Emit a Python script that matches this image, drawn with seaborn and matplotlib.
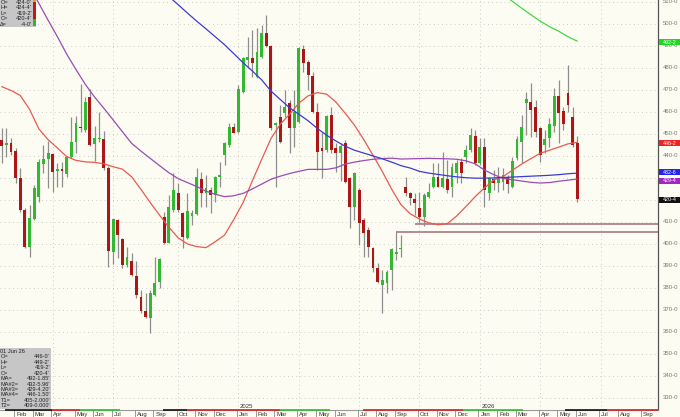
import numpy as np
import pandas as pd
import matplotlib
matplotlib.use("Agg")
import matplotlib.pyplot as plt
import matplotlib.transforms as mtransforms
from matplotlib.patches import Rectangle
import seaborn as sns

# ---------------- data ----------------
start_date = "2024-01-15"          # first weekly bar
n_future = 17                      # empty weekly slots to the right

opens = [447.3, 444.9, 445.8, 442.4, 429.9, 415.5, 398.8, 411.2, 421.2, 436.4,
         438.5, 440.9, 433.2, 434.1, 431.7, 439.4, 446.5, 453.3, 451.8, 466.7,
         445.3, 447.6, 447.6, 434.4, 396.2, 410.9, 402.1, 390.2, 392.3, 385.2,
         375.8, 369.7, 366.2, 376.8, 382.5, 412.4, 400.6, 415.5, 423.3, 414.2,
         402.6, 412.7, 413.6, 429.4, 423.0, 424.5, 422.3, 430.6, 440.5, 445.0,
         453.3, 450.8, 469.2, 483.6, 484.4, 476.1, 485.2, 495.8, 490.0, 454.1,
         457.6, 459.4, 463.9, 452.6, 455.6, 488.5, 482.9, 476.5, 460.2, 443.5,
         442.7, 458.6, 443.5, 441.5, 445.8, 429.8, 417.0, 424.5, 410.9, 406.4,
         398.0, 389.0, 381.4, 382.1, 388.2, 395.5, 397.6, 425.7, 423.3, 420.3,
         416.2, 412.1, 421.5, 425.8, 430.6, 425.8, 429.4, 425.8, 432.1, 437.4,
         439.4, 442.7, 449.1, 436.7, 444.2, 423.0, 429.4, 427.6, 428.0, 430.6,
         426.1, 439.0, 446.5, 464.2, 464.7, 462.4, 452.6, 445.0, 448.0, 453.6,
         467.3, 460.5, 468.8, 457.9, 446.0]
highs = [452.6, 452.6, 448.0, 443.5, 434.4, 416.2, 417.7, 426.8, 438.5, 445.0,
         447.0, 441.5, 436.7, 437.4, 439.7, 457.9, 458.2, 472.7, 467.0, 470.3,
         453.6, 460.2, 451.5, 435.5, 411.5, 411.2, 402.6, 398.8, 396.1, 392.3,
         379.1, 377.6, 379.1, 394.2, 393.5, 414.7, 422.3, 432.1, 427.6, 414.7,
         423.0, 415.5, 434.4, 432.9, 431.4, 426.1, 431.1, 437.4, 446.5, 454.8,
         454.8, 472.3, 485.2, 494.2, 497.3, 498.0, 499.5, 504.1, 490.5, 455.6,
         463.2, 470.0, 465.5, 470.0, 489.7, 490.5, 483.6, 478.3, 463.9, 451.1,
         458.6, 462.4, 445.8, 445.8, 447.3, 430.6, 432.9, 425.3, 411.7, 407.9,
         398.8, 391.5, 388.2, 388.2, 398.0, 405.25, 404.1, 430.6, 423.8, 423.0,
         423.8, 423.3, 427.9, 436.7, 436.7, 442.0, 438.2, 436.7, 438.2, 438.9,
         445.0, 452.5, 452.0, 448.0, 448.0, 430.6, 433.6, 435.2, 434.4, 431.4,
         439.4, 449.1, 458.6, 469.2, 473.0, 465.5, 453.3, 451.8, 457.1, 470.8,
         474.5, 462.4, 481.4, 462.4, 449.25]
lows = [436.7, 439.7, 440.5, 427.6, 414.7, 398.0, 393.9, 410.9, 419.2, 432.1,
        425.3, 423.8, 426.1, 426.1, 430.6, 439.0, 441.2, 451.1, 451.1, 444.5,
        437.9, 446.5, 433.6, 389.7, 391.0, 393.5, 388.9, 389.4, 385.2, 375.3,
        368.5, 366.2, 359.4, 376.4, 380.0, 400.0, 400.3, 414.7, 414.7, 398.0,
        402.1, 408.6, 413.2, 417.0, 417.0, 414.2, 419.2, 426.1, 435.9, 444.2,
        450.3, 450.3, 468.8, 479.8, 476.1, 475.3, 484.4, 489.7, 451.8, 426.1,
        445.8, 457.9, 441.2, 444.2, 454.8, 478.3, 470.0, 459.4, 433.6, 429.9,
        442.0, 441.2, 432.9, 428.5, 427.6, 407.1, 410.9, 399.6, 394.2, 394.2,
        387.4, 382.1, 368.5, 377.6, 379.1, 392.7, 394.2, 421.8, 417.7, 413.2,
        409.4, 408.2, 420.8, 425.3, 425.8, 425.3, 423.0, 421.5, 427.6, 427.6,
        436.7, 442.0, 435.9, 435.9, 417.0, 420.0, 424.5, 423.8, 424.5, 423.0,
        425.3, 438.2, 437.0, 449.5, 448.8, 448.8, 437.4, 441.2, 444.2, 451.1,
        445.8, 451.8, 460.2, 444.2, 419.25]
closes = [444.5, 446.1, 442.0, 429.9, 415.5, 398.8, 411.7, 425.3, 437.4, 438.8,
          441.5, 432.9, 434.1, 433.2, 439.4, 446.5, 454.9, 452.6, 464.7, 445.0,
          448.3, 448.3, 434.4, 397.0, 411.2, 404.1, 390.2, 394.1, 385.9, 376.6,
          369.3, 366.7, 377.9, 382.1, 393.2, 400.6, 417.0, 424.6, 415.5, 403.3,
          415.0, 414.2, 430.6, 423.3, 425.3, 422.3, 430.6, 431.4, 445.8, 453.3,
          450.6, 470.5, 484.4, 485.2, 482.1, 487.4, 495.8, 490.0, 452.6, 455.1,
          446.5, 462.4, 452.6, 460.2, 489.0, 482.1, 476.8, 460.2, 442.0, 442.4,
          458.2, 442.7, 441.5, 444.5, 428.3, 416.7, 432.4, 409.4, 404.8, 398.8,
          389.0, 382.9, 383.6, 387.4, 397.6, 396.5, 398.0, 423.3, 420.8, 418.8,
          412.1, 422.3, 423.8, 430.3, 426.1, 429.8, 424.5, 434.8, 436.7, 432.1,
          442.7, 449.3, 436.7, 444.2, 424.5, 429.8, 427.6, 430.6, 431.4, 427.3,
          437.7, 447.6, 453.0, 465.8, 460.9, 451.1, 440.5, 447.6, 454.5, 467.3,
          459.4, 454.5, 463.2, 445.0, 420.5]

# moving averages, read every 2 bars
ma_idx = list(range(0, 125, 2))
ma4_red = [471.5, 469.8, 467.5, 461.2, 452.3, 447.4, 443.6, 439.7, 438.0, 437.3,
           437.1, 436.4, 435.1, 434.0, 430.5, 424.8, 418.8, 413.1, 407.6, 402.8,
           400.0, 398.8, 398.3, 401.0, 404.0, 411.1, 418.8, 428.7, 438.4, 447.9,
           454.4, 458.9, 464.0, 467.3, 468.8, 468.1, 464.5, 459.4, 454.0, 447.4,
           440.3, 432.9, 424.9, 417.9, 413.7, 411.3, 409.6, 408.7, 409.2, 412.7,
           417.0, 421.5, 425.5, 429.1, 430.6, 433.5, 436.3, 438.8, 441.2, 442.6,
           444.0, 445.5, 446.2]
ma3_purple = [538.0, 531.0, 524.0, 516.7, 509.4, 501.7, 494.2, 486.3, 479.3, 472.6,
              466.8, 461.7, 456.4, 451.0, 445.7, 442.2, 438.9, 435.6, 432.4, 429.7,
              427.9, 426.1, 424.0, 422.6, 421.5, 421.9, 423.0, 425.0, 427.2, 429.4,
              430.8, 432.0, 433.0, 433.9, 433.9, 433.9, 434.6, 436.3, 437.2, 437.9,
              438.5, 438.8, 439.0, 438.6, 438.7, 438.8, 438.9, 438.8, 438.7, 438.5,
              437.8, 436.4, 433.6, 431.5, 429.8, 429.2, 428.6, 428.0, 427.7, 427.9,
              428.5, 429.0, 429.5]
ma2_idx = list(range(36, 125, 2))
ma2_blue = [512.5, 508.8, 505.0, 501.3, 497.8, 494.2, 490.6, 486.5, 482.4, 478.6,
            474.6, 469.5, 465.7, 461.9, 459.0, 456.0, 452.5, 449.4, 446.8, 444.4,
            442.6, 441.3, 440.0, 438.7, 437.2, 435.6, 434.5, 433.0, 432.2, 431.6,
            431.0, 430.5, 430.1, 429.9, 429.9, 430.0, 430.2, 430.4, 430.6, 430.8,
            431.0, 431.2, 431.5, 431.9, 432.2]
ma1_idx = list(range(108, 125, 2))
ma1_green = [513.5, 510.3, 507.2, 504.2, 501.3, 498.8, 496.7, 494.2, 492.2]

t1_level, t1_start = 405.25, 85
t2_level, t2_start = 409.0, 89

y_ticks = list(range(330, 511, 10))

last_labels = [(492.25, "492-2", "#22d622"), (446.25, "446-2", "#ee2424"),
               (433.05, "432-6", "#2424ee"), (429.2, "429-4", "#a424c4"),
               (420.5, "420-4", "#111111")]

top_box = [("O=", "424-0'"), ("H=", "424-4'"), ("L=", "419-2'"),
           ("C=", "420-4'"), ("Δ=", "-4-0'")]
bottom_box = [("O=", "446-0'"), ("H=", "449-2'"), ("L=", "419-2'"), ("C=", "420-4'"),
              ("MA=", "492-1.85'"), ("MA#2=", "432-5.96'"), ("MA#3=", "429-4.20'"),
              ("MA#4=", "446-1.50'"), ("T1=", "405-2.000'"), ("T2=", "409-0.000'")]
bottom_date = "01 Jun 26"

# ---------------- style ----------------
sns.set_theme(style="white")
plt.rcParams["font.family"] = ["Liberation Sans", "DejaVu Sans"]
BG = "#fdfcf2"
GREEN = "#33b833"
RED = "#ad1616"
WICK = "#8e8e8e"

W, H = 680, 417
fig = plt.figure(figsize=(W / 100, H / 100), dpi=100, facecolor=BG)
ax = fig.add_axes([0, 7 / H, 658 / W, 410 / H])
ax.set_facecolor(BG)

n = len(opens)
xmax = (658 - 1.7) / 4.642
ax.set_xlim(-0.366, xmax)
ax.set_ylim(324.5, 510.9)

dates = pd.date_range(start_date, periods=n + n_future, freq="7D")

# grid
for v in y_ticks:
    ax.axhline(v, color="#bdbdbd", lw=0.6, ls=(0, (1, 4)), zorder=0)
month_starts = [i for i in range(1, len(dates)) if dates[i].month != dates[i - 1].month]
for i in month_starts:
    if dates[i].month in (1, 4, 7, 10):
        ax.axvline(i, color="#bdbdbd", lw=0.6, ls=(0, (1, 4)), zorder=0)

# candles
idx = np.arange(n)
o = np.array(opens); c = np.array(closes); hi = np.array(highs); lo = np.array(lows)
up = c >= o
ax.vlines(idx, lo, hi, color=WICK, lw=0.9, zorder=2)
blo = np.minimum(o, c)
bh = np.maximum(np.abs(c - o), 0.55)
ax.bar(idx[up], bh[up], bottom=blo[up], width=0.62, color=GREEN, lw=0, zorder=3)
ax.bar(idx[~up], bh[~up], bottom=blo[~up], width=0.62, color=RED, lw=0, zorder=3)

# moving averages
sns.lineplot(x=ma_idx, y=ma4_red, ax=ax, color="#e85a50", lw=0.9, zorder=4)
sns.lineplot(x=ma_idx, y=ma3_purple, ax=ax, color="#9a4cb2", lw=0.9, zorder=4)
sns.lineplot(x=ma2_idx, y=ma2_blue, ax=ax, color="#3b3bd6", lw=0.9, zorder=4)
sns.lineplot(x=ma1_idx, y=ma1_green, ax=ax, color="#44d844", lw=0.9, zorder=4)

# horizontal trend lines
ax.hlines([t1_level, t2_level], [t1_start, t2_start], xmax, color="#b48a92", lw=1.4, zorder=1)

# spines
for s in ("top", "left", "bottom"):
    ax.spines[s].set_visible(False)
ax.spines["right"].set_color("#555555")
ax.spines["right"].set_linewidth(0.9)
ax.set_xticks([]); ax.set_yticks([])
ax.set_xlabel(""); ax.set_ylabel("")

# right value labels (tick labels hidden behind the value boxes are not drawn)
ty = mtransforms.blended_transform_factory(fig.transFigure, ax.transData)
box_vals = [v for v, _, _ in last_labels]
for v in y_ticks:
    if min(abs(v - b) for b in box_vals) < 1.8:
        continue
    fig.text(663 / W, v, f"{v}-0", transform=ty, fontsize=4.3, color="#777777",
             va="center", ha="left")
for v, s, col in last_labels:
    fig.patches.append(Rectangle((658.5 / W, v - 1.75), 22 / W, 2.6, transform=ty,
                                 facecolor=col, edgecolor="none", zorder=5))
    fig.text(663 / W, v - 0.45, s, transform=ty, fontsize=3.9, color="white",
             va="center", ha="left", zorder=6)

# bottom time band
tb = mtransforms.blended_transform_factory(ax.transData, ax.transAxes)
ax.plot([-0.4, xmax], [0, 0], transform=tb, color="#9a9a9a", lw=0.8, clip_on=False, zorder=5)
band_segments = [(0.7, 10.8, "#111111"), (10.8, 16.9, "#cc2222"), (16.9, 25.5, "#33bb33"),
                 (34.8, 39.9, "#111111"), (39.9, 60.0, "#cc2222"), (60.0, 70.7, "#33bb33"),
                 (77.8, 99.4, "#cc2222"), (99.4, 112.3, "#33bb33"),
                 (121.3, 130.4, "#111111"), (130.4, xmax, "#cc2222")]
for a, b, col in band_segments:
    ax.plot([a, b], [0, 0], transform=tb, color=col, lw=1.2, clip_on=False, zorder=6,
            solid_capstyle="butt")
for i in month_starts:
    ax.plot([i - 0.3, i - 0.3], [0, -0.02], transform=tb, color="#8a8a8a", lw=0.6,
            clip_on=False, zorder=5)
    ax.text(i + 0.15, -0.0098, dates[i].strftime("%b"), transform=tb, fontsize=4.3,
            color="#333333", va="center", ha="left", clip_on=False)
    if dates[i].month == 1:
        ax.text(i + 0.3, 0.0085, str(dates[i].year), transform=tb, fontsize=4.3,
                color="#333333", va="center", ha="left")

# info boxes
def fx(px):
    return px / W

def fy(py):
    return 1 - py / H

fig.patches.append(Rectangle((0, fy(27)), fx(36), 27 / H, transform=fig.transFigure,
                             facecolor="#c6c6c6", edgecolor="none", zorder=7))
fig.patches.append(Rectangle((fx(33.2), fy(19.5)), fx(2.6), 17.5 / H, transform=fig.transFigure,
                             facecolor="#c41818", edgecolor="none", zorder=8))
fig.patches.append(Rectangle((fx(33.2), fy(26)), fx(2.6), 6.5 / H, transform=fig.transFigure,
                             facecolor="#2fb82f", edgecolor="none", zorder=8))
fig.patches.append(Rectangle((fx(33.2), fy(2.4)), fx(2.6), 2 / H, transform=fig.transFigure,
                             facecolor="#e0a030", edgecolor="none", zorder=8))
for k, (lab, val) in enumerate(top_box):
    yy = fy(2.2 + k * 5.6)
    fig.text(fx(0.3), yy, lab, fontsize=4.1, color="#222222", va="center", ha="left", zorder=9)
    fig.text(fx(32), yy, val, fontsize=4.1, color="#222222", va="center", ha="right", zorder=9)

fig.patches.append(Rectangle((0, fy(409)), fx(51), 61 / H, transform=fig.transFigure,
                             facecolor="#c6c6c6", edgecolor="none", zorder=7))
fig.text(fx(0.5), fy(351.5), bottom_date, fontsize=4.1, color="#222222", va="center",
         ha="left", zorder=9)
for k, (lab, val) in enumerate(bottom_box):
    yy = fy(351.5 + (k + 1) * 5.42)
    fig.text(fx(0.5), yy, lab, fontsize=4.1, color="#222222", va="center", ha="left", zorder=9)
    fig.text(fx(50), yy, val, fontsize=4.1, color="#222222", va="center", ha="right", zorder=9)

fig.savefig("out.png", dpi=100, facecolor=BG)
